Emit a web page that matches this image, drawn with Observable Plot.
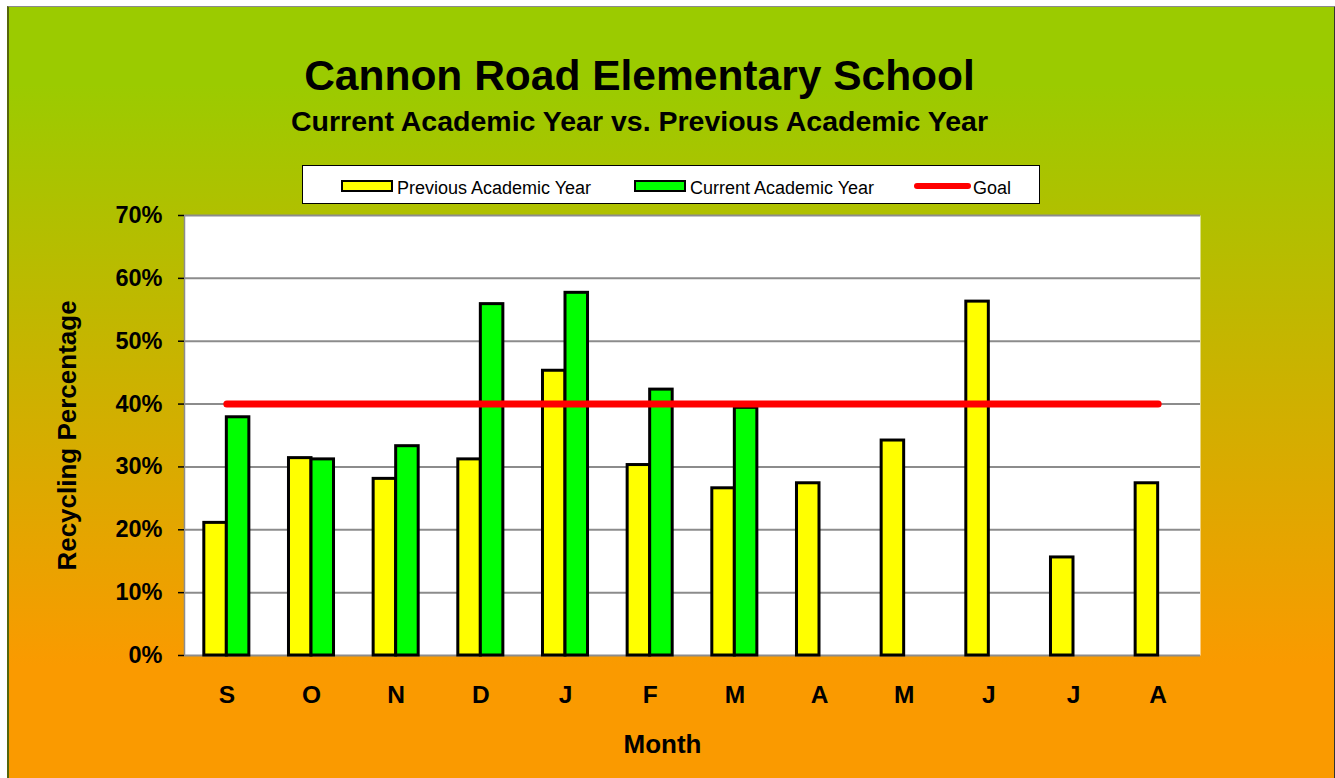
<!DOCTYPE html>
<html>
<head>
<meta charset="utf-8">
<script src="https://cdn.jsdelivr.net/npm/d3@7"></script>
<script src="https://cdn.jsdelivr.net/npm/@observablehq/plot@0.6"></script>
<style>
  html, body { margin: 0; padding: 0; background: #fff; width: 1335px; height: 778px; overflow: hidden; }
  body { font-family: "Liberation Sans", Arial, sans-serif; color: #000; position: relative; }
  #bg { position: absolute; left: 7px; top: 6px; width: 1325px; height: 775px;
        border-left: 2px solid #56660a; border-top: 1px solid #8a8a8a; border-right: 2px solid #333;
        background: linear-gradient(to bottom, #9BCB00 0%, #9BCB00 10%, #FA9A00 85%, #FA9A00 100%); }
  #chart { position: absolute; left: 0; top: 0; }
  .t { position: absolute; left: 0; width: 1279px; text-align: center; font-weight: bold; white-space: nowrap; line-height: 1; }
  #title { top: 55px; font-size: 42.5px; }
  #subtitle { top: 107px; font-size: 28.5px; }
  #legend { position: absolute; left: 302px; top: 165px; width: 738px; height: 39px; background: #fff; border: 1px solid #000; box-sizing: border-box; }
  .li { position: absolute; top: 0; height: 37px; }
  .sw { position: absolute; top: 14px; width: 52px; height: 12px; box-sizing: border-box; border: 2px solid #000; }
  .ln { position: absolute; top: 17px; width: 57px; height: 6px; border-radius: 3px; background: #f00; }
  .lt { position: absolute; top: 13px; font-size: 18px; line-height: 1; white-space: nowrap; }
</style>
</head>
<body>
<div id="bg"></div>
<div id="chart"></div>
<div class="t" id="title">Cannon Road Elementary School</div>
<div class="t" id="subtitle">Current Academic Year vs. Previous Academic Year</div>
<div id="legend"></div>
<script>
// ---- data ----
const months = ["S", "O", "N", "D", "J", "F", "M", "A", "M", "J", "J", "A"];
const previousYear = [21.1, 31.4, 28.1, 31.2, 45.3, 30.3, 26.6, 27.4, 34.2, 56.3, 15.6, 27.4];
const currentYear = [37.9, 31.2, 33.3, 55.9, 57.7, 42.3, 39.4, null, null, null, null, null];
const goalValue = 40;
const yTicks = [0, 10, 20, 30, 40, 50, 60, 70];
const seriesNames = ["Previous Academic Year", "Current Academic Year", "Goal"];
const seriesColors = ["#FFFF00", "#00FF00", "#FF0000"];

// ---- build tables ----
const idx = months.map((m, i) => i);
const bars = [];
months.forEach((m, i) => {
  if (previousYear[i] != null) bars.push({i, month: m, series: seriesNames[0], value: previousYear[i], side: -1});
  if (currentYear[i] != null) bars.push({i, month: m, series: seriesNames[1], value: currentYear[i], side: 1});
});
const goalRows = [{i: 0, value: goalValue}, {i: months.length - 1, value: goalValue}];
const bw = 0.266; // bar width in month units

const font = "Liberation Sans, Arial, sans-serif";
const plot = Plot.plot({
  width: 1335,
  height: 778,
  marginTop: 215,
  marginBottom: 123,
  marginLeft: 184,
  marginRight: 135,
  style: {background: "transparent", fontFamily: font, color: "#000", overflow: "visible"},
  x: {type: "linear", domain: [-0.5, months.length - 0.5]},
  y: {domain: [0, 70]},
  color: {domain: seriesNames, range: seriesColors},
  marks: [
    Plot.frame({fill: "white", stroke: "none"}),
    Plot.ruleY(yTicks, {stroke: "#8c8c8c", strokeWidth: 2}),
    Plot.ruleX([-0.5], {stroke: "#8c8c8c", strokeWidth: 1.5}),
    Plot.rectY(bars, {
      x1: d => d.side < 0 ? d.i - bw : d.i,
      x2: d => d.side < 0 ? d.i : d.i + bw,
      y1: 0,
      y2: "value",
      fill: "series",
      stroke: "#000",
      strokeWidth: 3
    }),
    Plot.lineY(goalRows, {x: "i", y: "value", stroke: seriesColors[2], strokeWidth: 7, strokeLinecap: "round"}),
    Plot.axisY(yTicks, {
      tickSize: 6, tickPadding: 16, stroke: "#000", strokeWidth: 1.5,
      tickFormat: d => d + "%", fontSize: 23.5, fontWeight: "bold", label: null
    }),
    Plot.axisX(idx, {
      tickSize: 0, tickPadding: 30,
      tickFormat: i => months[i], fontSize: 24.5, fontWeight: "bold", label: null
    }),
    Plot.text(["Recycling Percentage"], {
      frameAnchor: "left", dx: -117, rotate: -90, fontSize: 26, fontWeight: "bold",
      textAnchor: "middle", lineAnchor: "middle"
    }),
    Plot.text(["Month"], {
      frameAnchor: "bottom", dx: -30, dy: 89, fontSize: 26, fontWeight: "bold",
      textAnchor: "middle", lineAnchor: "middle"
    })
  ]
});
document.getElementById("chart").appendChild(plot);

// ---- legend ----
const legend = document.getElementById("legend");
const legendPos = [
  {sw: 38, tx: 94},
  {sw: 331, tx: 387},
  {sw: 611, tx: 670}
];
seriesNames.forEach((name, k) => {
  const p = legendPos[k];
  const sw = document.createElement("div");
  if (k < 2) { sw.className = "sw"; sw.style.background = seriesColors[k]; }
  else { sw.className = "ln"; sw.style.background = seriesColors[k]; }
  sw.style.left = p.sw + "px";
  legend.appendChild(sw);
  const tx = document.createElement("div");
  tx.className = "lt";
  tx.style.left = p.tx + "px";
  tx.textContent = name;
  legend.appendChild(tx);
});
</script>
</body>
</html>
